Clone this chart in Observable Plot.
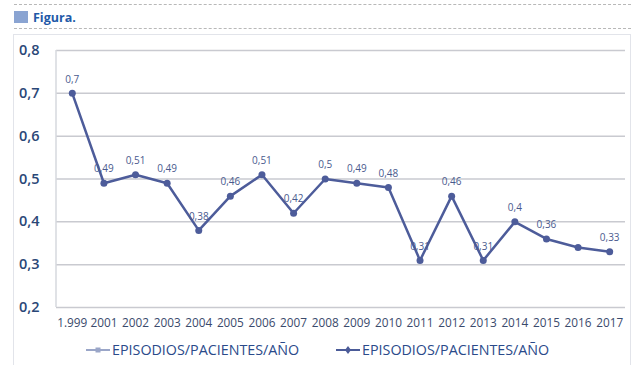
<!DOCTYPE html>
<html>
<head>
<meta charset="utf-8">
<script src="https://cdn.jsdelivr.net/npm/d3@7"></script>
<script src="https://cdn.jsdelivr.net/npm/@observablehq/plot@0.6"></script>
<style>
  html, body { margin: 0; padding: 0; background: #fff; }
  body { width: 635px; height: 365px; position: relative; overflow: hidden; font-family: "Open Sans", "Noto Sans", sans-serif; }
  .rule-top { position: absolute; left: 14px; right: 4px; top: 4px; border-top: 1.5px dashed #b8b8b8; }
  .rule-mid { position: absolute; left: 14px; right: 4px; top: 28px; border-top: 1.5px dashed #b8b8b8; }
  .head { position: absolute; left: 14px; top: 10px; height: 14px; display: flex; align-items: center; }
  .head .sq { width: 14px; height: 12px; background: #8aa4d2; margin-right: 5px; }
  .head .t { font-weight: 700; font-size: 12.5px; color: #1f5aa8; }
  .box { position: absolute; left: 13px; top: 34px; width: 618px; height: 340px; border: 1.5px solid #e2e4ea; box-sizing: border-box; }
  #chart { position: absolute; left: 0; top: 34px; }
  .legend { position: absolute; top: 340px; left: 0; width: 635px; font-size: 14.3px; color: #2a4a8a; }
  .legend .item { position: absolute; display: flex; align-items: center; white-space: nowrap; }
  .legend svg { margin-right: 2px; }
</style>
</head>
<body>
<div class="rule-top"></div>
<div class="head"><div class="sq"></div><div class="t">Figura.</div></div>
<div class="rule-mid"></div>
<div class="box"></div>
<div id="chart"></div>
<div class="legend">
  <div class="item" style="left:86px">
    <svg width="24" height="10"><line x1="0" y1="5" x2="24" y2="5" stroke="#9aa6c8" stroke-width="2"/><rect x="9.5" y="2.5" width="5" height="5" fill="#9aa6c8"/></svg>
    <span>EPISODIOS/PACIENTES/AÑO</span>
  </div>
  <div class="item" style="left:336px">
    <svg width="24" height="10"><line x1="0" y1="5" x2="24" y2="5" stroke="#4b5b98" stroke-width="2"/><path d="M12 1 L15 5 L12 9 L9 5 Z" fill="#4b5b98"/></svg>
    <span>EPISODIOS/PACIENTES/AÑO</span>
  </div>
</div>
<script>
// Episodes per patient per year
const years = ["1.999", "2001", "2002", "2003", "2004", "2005", "2006", "2007", "2008",
               "2009", "2010", "2011", "2012", "2013", "2014", "2015", "2016", "2017"];
const values = [0.7, 0.49, 0.51, 0.49, 0.38, 0.46, 0.51, 0.42, 0.5,
                0.49, 0.48, 0.31, 0.46, 0.31, 0.4, 0.36, 0.34, 0.33];
const yTicks = [0.2, 0.3, 0.4, 0.5, 0.6, 0.7, 0.8];
const unlabeled = ["2016"];

const data = years.map((year, i) => ({year, value: values[i]}));
const comma = v => String(v).replace(".", ",");

const lineColor = "#4d5c9a";

const chart = Plot.plot({
  width: 635,
  height: 305,
  marginTop: 16,
  marginBottom: 32,
  marginLeft: 56,
  marginRight: 10,
  style: {fontFamily: "'Open Sans', 'Noto Sans', sans-serif", background: "transparent"},
  x: {type: "band", domain: years, padding: 0, round: false, label: null},
  y: {domain: [0.2, 0.8], label: null},
  marks: [
    Plot.gridY(yTicks, {stroke: "#c9cad0", strokeOpacity: 1, strokeWidth: 1.5}),
    Plot.axisY(yTicks, {tickSize: 0, tickPadding: 17, tickFormat: d => d.toFixed(1).replace(".", ","),
      fontSize: 14.5, fill: "#2a4777", fontWeight: 600, label: null}),
    Plot.axisX({tickSize: 0, tickPadding: 11, fontSize: 11.8, fill: "#3a4a6c", label: null}),
    Plot.lineY(data, {x: "year", y: "value", stroke: lineColor, strokeWidth: 2.5}),
    Plot.dot(data, {x: "year", y: "value", r: 3.5, fill: lineColor, stroke: "none"}),
    Plot.text(data.filter(d => !unlabeled.includes(d.year)), {
      x: "year", y: "value", text: d => comma(d.value), dy: -14,
      fontSize: 10, fill: "#4a5a8e"
    })
  ]
});

// left axis line of the plotting area
d3.select(chart).append("line")
  .attr("x1", 56).attr("x2", 56)
  .attr("y1", 16).attr("y2", 305 - 32)
  .attr("stroke", "#d6d8de").attr("stroke-width", 1.5);

document.getElementById("chart").appendChild(chart);
</script>
</body>
</html>
